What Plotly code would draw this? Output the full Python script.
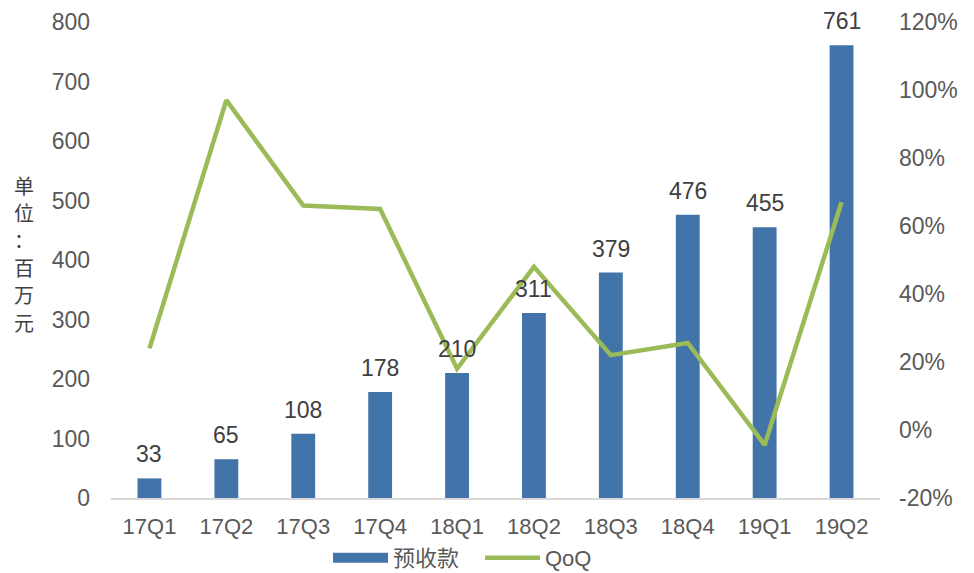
import plotly.graph_objects as go

categories = ["17Q1", "17Q2", "17Q3", "17Q4", "18Q1", "18Q2", "18Q3", "18Q4", "19Q1", "19Q2"]
advance_receipts = [33, 65, 108, 178, 210, 311, 379, 476, 455, 761]
qoq = [0.24, 0.97, 0.66, 0.65, 0.18, 0.48, 0.22, 0.256, -0.044, 0.67]

left_ticks = [0, 100, 200, 300, 400, 500, 600, 700, 800]
right_ticks = [-0.2, 0, 0.2, 0.4, 0.6, 0.8, 1.0, 1.2]
right_tick_labels = ["-20%", "0%", "20%", "40%", "60%", "80%", "100%", "120%"]
y_title_chars = ["单", "位", "：", "百", "万", "元"]

W, H = 974, 573
L, R, T, B = 111, 94, 22, 75
PW, PH = W - L - R, H - T - B
BAR_COLOR = "#4374A9"
LINE_COLOR = "#9BBB59"

fig = go.Figure()
fig.add_trace(go.Bar(
    x=categories, y=advance_receipts, name="预收款",
    marker=dict(color=BAR_COLOR, line=dict(width=0)),
    width=0.31, showlegend=False,
))
# legend proxy for the bar series (wide rectangle swatch)
fig.add_trace(go.Scatter(
    x=[None], y=[None], name="预收款", mode="lines",
    line=dict(color=BAR_COLOR, width=15),
))
fig.add_trace(go.Scatter(
    x=categories, y=qoq, name="QoQ", yaxis="y2", mode="lines",
    line=dict(color=LINE_COLOR, width=4.5),
))

# data labels above bars
for c, v in zip(categories, advance_receipts):
    fig.add_annotation(
        x=c, y=v, xref="x", yref="y", text=str(v), showarrow=False,
        yanchor="middle", yshift=24,
        font=dict(size=23, color="#404040", family="Liberation Sans, Arial"),
    )

tickfont = dict(size=23, color="#595959", family="Liberation Sans, Arial")
fig.update_layout(
    width=W, height=H,
    margin=dict(l=L, r=R, t=T, b=B, autoexpand=False),
    paper_bgcolor="white", plot_bgcolor="white",
    xaxis=dict(showgrid=False, showline=True, linecolor="#D9D9D9", linewidth=1.5,
               tickfont=dict(size=22, color="#595959", family="Liberation Sans, Arial"),
               ticks="", ticklabelstandoff=8),
    yaxis=dict(range=[0, 800], tickvals=left_ticks, showgrid=False, zeroline=False,
               showline=False, tickfont=tickfont, ticks="", ticklabelstandoff=20),
    yaxis2=dict(range=[-0.2, 1.2], tickvals=right_ticks, ticktext=right_tick_labels,
                overlaying="y", side="right", showgrid=False, zeroline=False,
                showline=False, tickfont=tickfont, ticks="", ticklabelstandoff=18),
    legend=dict(orientation="h", x=(333 - L - 5) / PW, xanchor="left", xref="paper",
                y=(H - B - 558) / PH, yanchor="middle", yref="paper",
                font=dict(size=22, color="#595959", family="Liberation Sans, Noto Sans CJK SC"),
                itemwidth=55, entrywidth=82, entrywidthmode="pixels",
                traceorder="normal", bgcolor="rgba(0,0,0,0)"),
    showlegend=True,
)
# vertical unit label, one character per line
for i, ch in enumerate(y_title_chars):
    ypix = 185 + i * 27.4
    fig.add_annotation(
        text=ch, xref="paper", yref="paper",
        x=-87 / PW, xanchor="center", y=(H - B - ypix) / PH, yanchor="middle",
        showarrow=False,
        font=dict(size=20, color="#404040", family="Noto Sans CJK SC"),
    )
fig.write_html("out.html")
